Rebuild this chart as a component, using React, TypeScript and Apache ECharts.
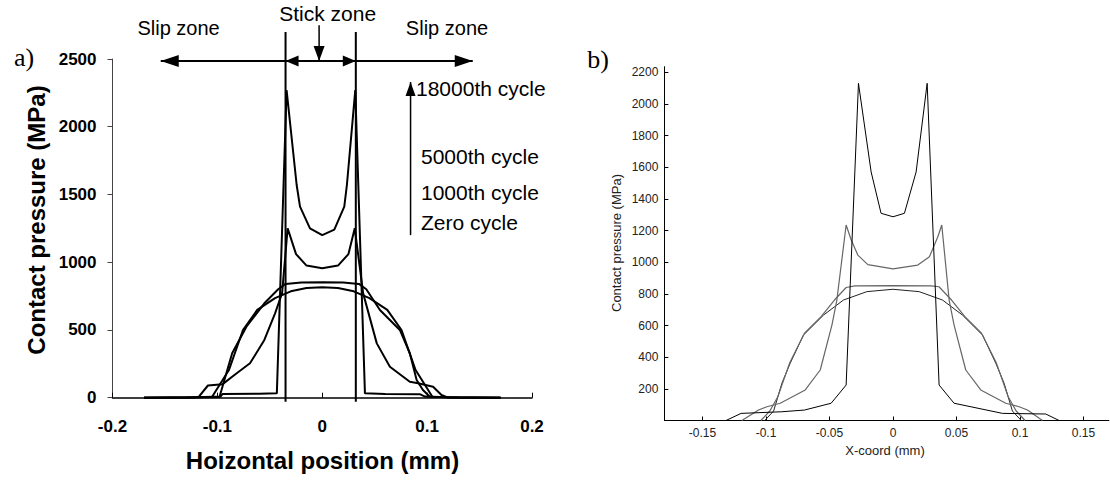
import React, { useEffect, useRef } from 'react';
import * as echarts from 'echarts';

type P = [number, number];

// ---------- Panel a (experiment) ----------
const aXTicks = [-0.2, -0.1, 0, 0.1, 0.2];
const aYTicks = [0, 500, 1000, 1500, 2000, 2500];
const aZeroCycle: P[] = [[-0.17, 0], [-0.12, 3], [-0.105, 7], [-0.089, 204], [-0.0756, 500], [-0.062, 648], [-0.045, 735], [-0.03, 785], [-0.015, 810], [0, 815], [0.015, 810], [0.03, 785], [0.045, 735], [0.062, 648], [0.0756, 500], [0.089, 204], [0.105, 7], [0.12, 3], [0.17, 0]];
const a1000Cycle: P[] = [[-0.17, 0], [-0.13, 2], [-0.098, 5], [-0.0859, 328], [-0.0723, 524], [-0.0552, 697], [-0.042, 800], [-0.035, 840], [-0.02, 850], [0, 852], [0.02, 850], [0.035, 840], [0.042, 800], [0.055, 647], [0.074, 500], [0.0835, 328], [0.09, 130], [0.096, 57], [0.1026, 7], [0.13, 2], [0.17, 0]];
const a5000Cycle: P[] = [[-0.17, 0], [-0.125, 0], [-0.118, 5], [-0.109, 90], [-0.095, 100], [-0.0825, 175], [-0.0689, 254], [-0.0552, 426], [-0.045, 623], [-0.0383, 771], [-0.033, 1250], [-0.025, 1060], [-0.015, 975], [0, 955], [0.015, 975], [0.025, 1060], [0.031, 1250], [0.039, 770], [0.052, 401], [0.0645, 229], [0.0835, 118], [0.0914, 106], [0.1057, 81], [0.1137, 20], [0.12, 0], [0.17, 0]];
const a18000Cycle: P[] = [[-0.17, 0], [-0.12, 3], [-0.097, 8], [-0.095, 28], [-0.06, 30], [-0.0433, 32], [-0.034, 2270], [-0.0244, 1570], [-0.0212, 1410], [-0.0117, 1250], [0, 1200], [0.0115, 1240], [0.021, 1410], [0.0235, 1570], [0.0315, 2270], [0.0407, 32], [0.06, 28], [0.093, 26], [0.098, 8], [0.12, 3], [0.17, 0]];
const aZoneBounds = [-0.035, 0.032];
const aZoneBoundSpan = [-30, 2700];
const aZoneArrowY = 2485;
const aSlipTips = [-0.154, 0.1435];
const aStickPointer = { x: -0.003, from: 2750, to: 2485 };
const aCycleArrow = { x: 0.0842, from: 1200, to: 2330 };

// ---------- Panel b (simulation) ----------
const bXTicks = [-0.15, -0.1, -0.05, 0, 0.05, 0.1, 0.15];
const bYTicks = [200, 400, 600, 800, 1000, 1200, 1400, 1600, 1800, 2000, 2200];
const bZeroCycle: P[] = [[-0.101, 0], [-0.094, 60], [-0.0875, 235], [-0.081, 361], [-0.0705, 540], [-0.0547, 666], [-0.039, 761], [-0.0206, 814], [0, 829], [0.0206, 814], [0.039, 761], [0.0547, 666], [0.0705, 540], [0.081, 361], [0.0875, 235], [0.094, 60], [0.101, 0]];
const b1000Cycle: P[] = [[-0.104, 0], [-0.097, 60], [-0.0907, 150], [-0.0815, 361], [-0.0697, 551], [-0.0566, 656], [-0.0461, 761], [-0.0369, 840], [-0.03, 850], [0, 852], [0.03, 850], [0.0362, 845], [0.0461, 761], [0.0566, 656], [0.0697, 551], [0.0815, 361], [0.0907, 150], [0.097, 60], [0.104, 0]];
const b5000Cycle: P[] = [[-0.119, 0], [-0.1059, 66], [-0.0993, 87], [-0.0888, 109], [-0.0691, 193], [-0.0573, 319], [-0.0481, 603], [-0.0442, 761], [-0.0369, 1235], [-0.0329, 1140], [-0.0277, 1045], [-0.0198, 985], [0, 958], [0.0195, 982], [0.0287, 1035], [0.0353, 1161], [0.0384, 1235], [0.0442, 761], [0.0481, 603], [0.0573, 319], [0.0691, 193], [0.0888, 109], [0.0993, 87], [0.1059, 66], [0.1177, 0]];
const b18000Cycle: P[] = [[-0.1315, 0], [-0.1196, 45], [-0.088, 55], [-0.0697, 66], [-0.0487, 109], [-0.0369, 224], [-0.0272, 2130], [-0.0172, 1570], [-0.0094, 1309], [0, 1287], [0.009, 1309], [0.0182, 1570], [0.0269, 2130], [0.0363, 224], [0.0481, 109], [0.0862, 45], [0.1203, 41], [0.1308, 0]];

const SANS = '"Liberation Sans", Arial, sans-serif';
const SERIF = '"Liberation Serif", "Times New Roman", serif';

const HEAD_RIGHT = 'path://M0,0L1,0.5L0,1Z';
const HEAD_LEFT = 'path://M1,0L0,0.5L1,1Z';
const HEAD_UP = 'path://M0,1L0.5,0L1,1Z';
const HEAD_DOWN = 'path://M0,0L0.5,1L1,0Z';

const fmt = (v: number) => String(Math.round(v * 1000) / 1000);

function curve(data: P[], grid: number, color: string, width: number) {
  return {
    type: 'line', xAxisIndex: grid, yAxisIndex: grid, data, showSymbol: false,
    silent: true, lineStyle: { color, width }, itemStyle: { color }, z: 3,
  };
}

function arrowSeries(grid: number, a: P, b: P, startHead: any, endHead: any, width = 2) {
  const pt = (p: P, h: any) =>
    h ? { value: p, symbol: h.symbol, symbolSize: h.size, symbolOffset: h.offset } : { value: p, symbol: 'none' };
  return {
    type: 'line', xAxisIndex: grid, yAxisIndex: grid, clip: false, silent: true,
    showSymbol: true, data: [pt(a, startHead), pt(b, endHead)],
    lineStyle: { color: '#000', width }, itemStyle: { color: '#000' }, z: 5,
  };
}

function text(x: number, y: number, t: string, font: string, align = 'center', rotation = 0, fill = '#000') {
  return {
    type: 'text', x, y, rotation, silent: true,
    style: { text: t, font, fill, align, verticalAlign: 'middle', textAlign: align, textVerticalAlign: 'middle' },
  };
}

export default function App() {
  const ref = useRef<HTMLDivElement>(null);
  useEffect(() => {
    if (!ref.current) return;
    const chart = echarts.init(ref.current, undefined, { renderer: 'svg' });
    const yA = aZoneArrowY;
    const option: any = {
      animation: false,
      backgroundColor: '#fff',
      grid: [
        { left: 112.5, top: 59, width: 419.5, height: 338.7 },
        { left: 664.4, top: 66.7, width: 444.5, height: 353.8 },
      ],
      xAxis: [
        {
          gridIndex: 0, type: 'value', min: aXTicks[0], max: aXTicks[aXTicks.length - 1], interval: 0.1,
          axisLine: { onZero: false, lineStyle: { color: '#000', width: 1.5 } },
          axisTick: { inside: true, length: 5, lineStyle: { color: '#000', width: 1 } },
          axisLabel: { fontSize: 17, fontWeight: 'bold', fontFamily: SANS, color: '#000', margin: 20, formatter: fmt },
          splitLine: { show: false },
        },
        {
          gridIndex: 1, type: 'value', min: -0.18, max: 0.17,
          axisLine: { onZero: false, lineStyle: { color: '#000', width: 1 } },
          axisTick: { inside: true, length: 4, customValues: bXTicks, lineStyle: { color: '#000', width: 1 } },
          axisLabel: { fontSize: 12, fontFamily: SANS, color: '#222', margin: 6, customValues: bXTicks, formatter: fmt },
          splitLine: { show: false },
        },
      ],
      yAxis: [
        {
          gridIndex: 0, type: 'value', min: aYTicks[0], max: aYTicks[aYTicks.length - 1], interval: 500,
          axisLine: { show: true, onZero: false, lineStyle: { color: '#444', width: 1 } },
          axisTick: { show: true, inside: false, length: 5, lineStyle: { color: '#444', width: 1 } },
          axisLabel: { fontSize: 17, fontWeight: 'bold', fontFamily: SANS, color: '#000', margin: 16, formatter: fmt },
          splitLine: { show: false },
        },
        {
          gridIndex: 1, type: 'value', min: 0, max: 2235,
          axisLine: { show: true, onZero: false, lineStyle: { color: '#000', width: 1 } },
          axisTick: { show: true, inside: true, length: 4, customValues: bYTicks, lineStyle: { color: '#000', width: 1 } },
          axisLabel: { fontSize: 12, fontFamily: SANS, color: '#222', margin: 6, customValues: bYTicks, formatter: fmt },
          splitLine: { show: false },
        },
      ],
      series: [
        curve(aZeroCycle, 0, '#000', 2),
        curve(a1000Cycle, 0, '#000', 2),
        curve(a5000Cycle, 0, '#000', 2),
        curve(a18000Cycle, 0, '#000', 2),
        ...aZoneBounds.map((x) => ({
          type: 'line', xAxisIndex: 0, yAxisIndex: 0, clip: false, silent: true, showSymbol: false,
          data: [[x, aZoneBoundSpan[0]], [x, aZoneBoundSpan[1]]], lineStyle: { color: '#000', width: 2 }, z: 4,
        })),
        arrowSeries(0, [aZoneBounds[0], yA], [aSlipTips[0], yA], null,
          { symbol: HEAD_LEFT, size: [18, 12], offset: [9, 0] }),
        arrowSeries(0, [aZoneBounds[0], yA], [aZoneBounds[1], yA],
          { symbol: HEAD_LEFT, size: [13, 11], offset: [6.5, 0] },
          { symbol: HEAD_RIGHT, size: [13, 11], offset: [-6.5, 0] }),
        arrowSeries(0, [aZoneBounds[1], yA], [aSlipTips[1], yA], null,
          { symbol: HEAD_RIGHT, size: [18, 12], offset: [-9, 0] }),
        arrowSeries(0, [aStickPointer.x, aStickPointer.from], [aStickPointer.x, aStickPointer.to], null,
          { symbol: HEAD_DOWN, size: [11, 15], offset: [0, -7.5] }, 1.5),
        arrowSeries(0, [aCycleArrow.x, aCycleArrow.from], [aCycleArrow.x, aCycleArrow.to], null,
          { symbol: HEAD_UP, size: [10, 14], offset: [0, 7] }, 1.5),
        curve(bZeroCycle, 1, '#222', 1),
        curve(b1000Cycle, 1, '#666', 1.2),
        curve(b5000Cycle, 1, '#666', 1.2),
        curve(b18000Cycle, 1, '#000', 1),
      ],
      graphic: [
        text(24, 57, 'a)', `26px ${SERIF}`),
        text(178.6, 28, 'Slip zone', `20px ${SANS}`),
        text(327.7, 13, 'Stick zone', `21px ${SANS}`),
        text(447, 28, 'Slip zone', `20px ${SANS}`),
        text(416, 88, '18000th cycle', `21px ${SANS}`, 'left'),
        text(421, 156, '5000th cycle', `21px ${SANS}`, 'left'),
        text(421, 192, '1000th cycle', `21px ${SANS}`, 'left'),
        text(421, 222, 'Zero cycle', `21px ${SANS}`, 'left'),
        text(322.5, 460, 'Hoizontal position (mm)', `bold 24px ${SANS}`),
        text(36.5, 220, 'Contact pressure (MPa)', `bold 24px ${SANS}`, 'center', Math.PI / 2),
        text(598, 59.5, 'b)', `26px ${SERIF}`),
        text(885, 450, 'X-coord (mm)', `13px ${SANS}`, 'center', 0, '#222'),
        text(616, 243, 'Contact pressure (MPa)', `13px ${SANS}`, 'center', Math.PI / 2, '#222'),
      ],
    };
    chart.setOption(option);
    return () => chart.dispose();
  }, []);
  return (
    <div
      ref={ref}
      style={{ position: 'fixed', left: 0, top: 0, width: 1110, height: 482, background: '#fff' }}
    />
  );
}
